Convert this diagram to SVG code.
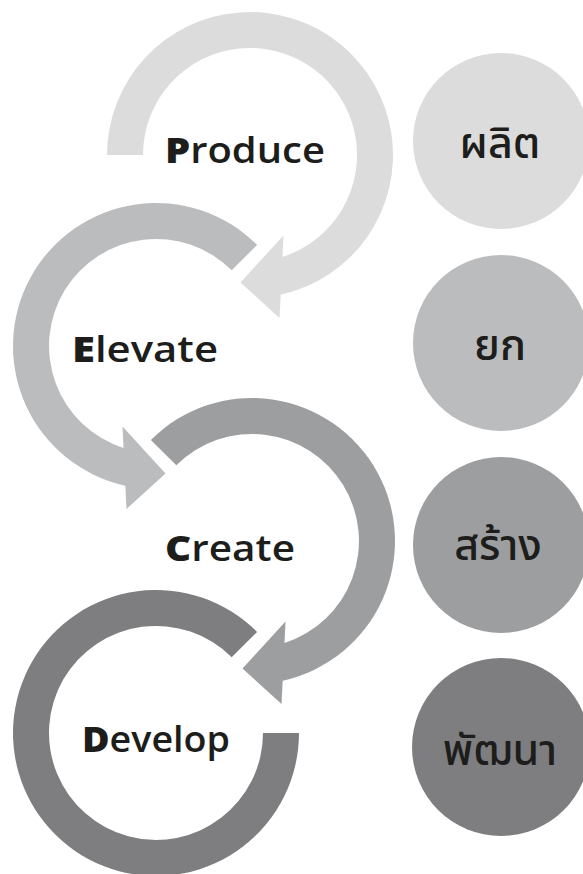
<svg xmlns="http://www.w3.org/2000/svg" width="583" height="874" viewBox="0 0 583 874">
<style>
.en{font-family:"Open Sans","Lato","Liberation Sans",sans-serif;font-size:36px;fill:#1d1d1b;font-weight:600}
.en .b{font-weight:800}
.th{font-family:"Noto Sans Thai","Noto Sans Thai UI","Loma","Garuda","Noto Sans",sans-serif;font-size:43px;fill:#1d1d1b;text-anchor:middle;font-weight:500}
.c1{fill:#dcdcdc}.c2{fill:#bbbcbe}.c3{fill:#9d9ea0}.c4{fill:#7e7e80}
</style>
<rect width="583" height="874" fill="#ffffff"/>
<g id="connectors">
<path id="arc-produce" class="c1" d="M 107,155 A 143 143 0 1 1 280.7,294.7 L 279.5,318 L 240.5,282.5 L 283.5,235.5 L 282.5,256.9 A 107 107 0 1 0 143,155 Z"/>
<path id="arc-elevate" class="c2" d="M 257.1,244.9 A 143 143 0 1 0 125.3,485.7 L 126.5,509 L 165.5,473.5 L 122.5,426.5 L 123.5,447.9 A 107 107 0 1 1 231.7,270.3 Z"/>
<path id="arc-create" class="c3" d="M 150.9,439.9 A 143 143 0 1 1 282.7,680.7 L 281.5,704 L 242.5,668.5 L 285.5,621.5 L 284.5,642.9 A 107 107 0 1 0 176.3,465.3 Z"/>
<path id="arc-develop" class="c4" d="M 257.1,631.9 A 143 143 0 1 0 299,733 L 263,733 A 107 107 0 1 1 231.7,657.3 Z"/>
</g>
<g id="node-produce"><text class="en" x="165" y="163" textLength="160" lengthAdjust="spacingAndGlyphs"><tspan class="b">P</tspan>roduce</text></g>
<g id="node-elevate"><text class="en" x="72" y="362" textLength="146" lengthAdjust="spacingAndGlyphs"><tspan class="b">E</tspan>levate</text></g>
<g id="node-create"><text class="en" x="165" y="561" textLength="130" lengthAdjust="spacingAndGlyphs"><tspan class="b">C</tspan>reate</text></g>
<g id="node-develop"><text class="en" x="82" y="752" textLength="148" lengthAdjust="spacingAndGlyphs"><tspan class="b">D</tspan>evelop</text></g>
<g id="node-th-produce"><circle class="c1" cx="501" cy="141" r="88"/><text class="th" x="500" y="158">ผลิต</text></g>
<g id="node-th-elevate"><circle class="c2" cx="501" cy="343" r="88"/><text class="th" x="500" y="360">ยก</text></g>
<g id="node-th-create"><circle class="c3" cx="501" cy="545" r="88"/><text class="th" x="498" y="560">สร้าง</text></g>
<g id="node-th-develop"><circle class="c4" cx="501" cy="747" r="89"/><text class="th" x="500" y="765">พัฒนา</text></g>
</svg>
